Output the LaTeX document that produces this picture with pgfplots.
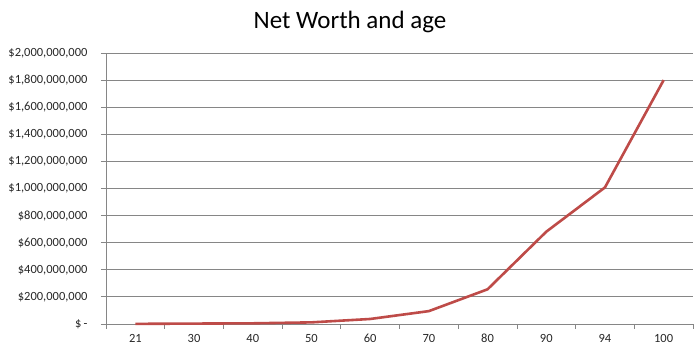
\documentclass[border=0pt]{standalone}
\usepackage{pgfplots}
\pgfplotsset{compat=1.18}
\usepackage{fontspec}
\setmainfont{Carlito}
\definecolor{linered}{HTML}{BE4B48}
\definecolor{gridgray}{HTML}{868686}
\begin{document}
\begin{tikzpicture}[x=1pt,y=1pt]
\path[use as bounding box] (0,0) rectangle (699,355);
\begin{axis}[
  at={(106pt,31pt)}, anchor=south west,
  scale only axis, width=587pt, height=271pt,
  xmin=-0.5, xmax=9.5, ymin=0, ymax=2000000000,
  axis x line*=bottom, axis y line*=left,
  axis line style={gridgray, line width=0.8pt},
  xtick={0,...,9},
  xticklabels={21,30,40,50,60,70,80,90,94,100},
  major x tick style={draw=none},
  minor xtick={-0.5,0.5,...,9.5},
  minor x tick style={gridgray, line width=0.8pt},
  minor tick length=5pt,
  ytick={0,200000000,...,2000000000},
  yticklabels={{\$\,-}, {\$200,000,000}, {\$400,000,000}, {\$600,000,000}, {\$800,000,000}, {\$1,000,000,000}, {\$1,200,000,000}, {\$1,400,000,000}, {\$1,600,000,000}, {\$1,800,000,000}, {\$2,000,000,000}},
  major y tick style={gridgray, line width=0.8pt},
  major tick length=5pt,
  tick align=outside,
  ymajorgrids,
  grid style={gridgray, line width=0.8pt},
  tick label style={font=\fontsize{12.5}{14}\selectfont, text=black!85},
  yticklabel style={xshift=-10pt},
  xticklabel style={yshift=-2pt, text height=8pt, text depth=1pt},
  scaled y ticks=false,
  clip=false,
]
\addplot[linered, line width=2.6pt, line join=round] coordinates {
  (0,1000000) (1,3000000) (2,5000000) (3,12000000) (4,37000000)
  (5,95000000) (6,256000000) (7,681000000) (8,1008000000) (9,1800000000)
};
\end{axis}
\node[font=\fontsize{25}{28}\selectfont, anchor=base] at (350,326) {Net Worth and age};
\end{tikzpicture}
\end{document}
